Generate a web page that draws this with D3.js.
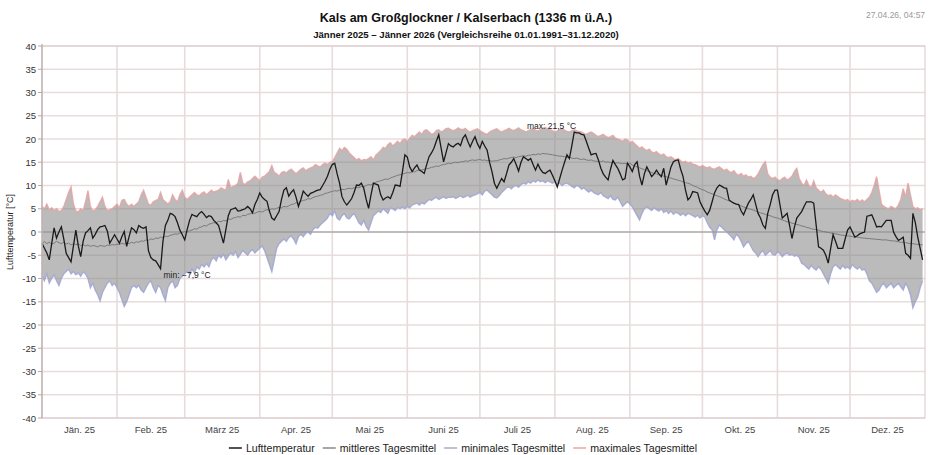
<!DOCTYPE html>
<html>
<head>
<meta charset="utf-8">
<script src="https://cdn.jsdelivr.net/npm/d3@7"></script>
<style>
  body { margin: 0; background: #fff; }
  text { font-family: "Liberation Sans", Arial, sans-serif; }
</style>
</head>
<body>
<script>
var width = 928
var height = 455
var plotLeft = 42, plotRight = 925, plotTop = 46, plotBottom = 418

var monthLabels = ["Jän. 25", "Feb. 25", "März 25", "Apr. 25", "Mai 25", "Juni 25",
  "Juli 25", "Aug. 25", "Sep. 25", "Okt. 25", "Nov. 25", "Dez. 25"]

// Lufttemperatur, Tagesmittel 2025 (1. Jänner .. 31. Dezember)
var lufttemperatur = [
  -2.4, -3.5, -4.5, -6.0, -2.5, 0.9, -1.3, 0.0, 1.1, -1.5,
  -4.6, -5.5, -6.4, -3.0, 0.4, -3.0, -5.3, -2.0, -0.2, 0.3,
  0.9, -1.3, -0.5, 0.5, 1.1, 1.2, 1.4, 0.2, -2.4, -1.5,
  -0.6, -1.5, -2.4, -1.0, 0.1, -3.1, -1.0, 0.9, 0.5, -0.2,
  1.4, 1.0, 0.8, 1.1, -4.0, -5.5, -6.0, -6.2, -7.0, -7.9,
  -2.0, 1.4, 2.5, 4.0, 3.8, 3.3, 2.0, 0.4, -0.6, -1.7,
  0.5, 2.5, 3.8, 3.5, 3.3, 4.0, 4.4, 3.8, 3.1, 3.5,
  3.3, 2.5, 2.0, 1.4, -0.5, -2.4, 0.5, 3.5, 4.8, 5.0,
  5.2, 4.5, 4.6, 4.8, 5.0, 5.5, 5.0, 4.1, 5.9, 7.0,
  8.4, 7.5, 7.0, 6.6, 4.5, 3.0, 2.6, 3.5, 4.4, 7.0,
  9.0, 9.5, 7.7, 8.5, 9.1, 7.5, 5.5, 7.0, 8.8, 8.2,
  7.7, 8.3, 8.5, 8.8, 9.0, 9.1, 10.0, 10.9, 12.0, 13.5,
  14.5, 14.8, 12.5, 10.5, 7.6, 6.5, 5.8, 6.5, 7.2, 8.5,
  10.1, 10.0, 10.5, 9.4, 7.0, 5.1, 8.0, 10.5, 10.3, 10.1,
  8.0, 6.9, 7.3, 7.6, 7.2, 8.5, 10.1, 10.0, 9.8, 13.0,
  16.6, 16.1, 14.0, 13.0, 13.8, 14.4, 13.3, 13.0, 12.6, 14.5,
  16.2, 17.0, 18.0, 19.5, 20.9, 18.0, 15.1, 17.0, 19.0, 18.5,
  18.3, 18.8, 19.1, 18.6, 20.2, 20.9, 19.5, 18.3, 19.5, 20.5,
  19.0, 18.0, 19.5, 18.5, 17.6, 15.0, 13.0, 10.5, 9.4, 10.5,
  11.5, 10.8, 12.5, 14.4, 15.0, 15.8, 14.5, 13.1, 15.0, 16.2,
  15.8, 15.4, 15.8, 14.5, 13.3, 14.6, 13.5, 12.8, 12.6, 13.0,
  13.3, 12.2, 11.0, 9.7, 11.5, 13.3, 15.0, 16.6, 15.8, 18.5,
  21.5, 21.3, 21.3, 21.0, 20.9, 19.5, 18.0, 16.6, 16.8, 16.9,
  15.5, 13.7, 12.5, 11.8, 11.2, 13.5, 15.4, 14.5, 13.7, 12.5,
  11.2, 11.5, 14.8, 14.0, 13.0, 14.5, 15.1, 12.0, 10.1, 12.5,
  14.0, 13.0, 11.9, 12.5, 13.3, 12.5, 11.9, 13.7, 10.1, 12.0,
  14.0, 15.1, 15.4, 15.5, 13.5, 11.9, 9.0, 6.9, 7.5, 8.7,
  8.6, 8.4, 6.5, 5.4, 4.5, 3.7, 4.7, 6.5, 8.4, 9.5,
  10.1, 9.8, 9.5, 9.4, 6.9, 6.5, 6.2, 6.0, 5.9, 4.5,
  3.7, 5.0, 6.2, 7.0, 8.0, 6.0, 4.0, 3.0, 1.5, 0.8,
  4.0, 5.9, 8.0, 9.0, 9.0, 6.0, 3.0, 3.5, 4.0, 1.5,
  -1.4, 1.0, 3.0, 3.7, 4.4, 5.5, 6.5, 6.5, 6.5, 6.2,
  1.5, -3.2, -3.5, -3.9, -5.0, -6.7, -3.5, -0.6, -2.0, -3.5,
  -3.5, -3.5, -1.5, 0.4, 1.1, 0.0, -1.1, -0.8, -0.4, -0.2,
  0.0, 3.4, 3.5, 3.7, 2.5, 1.1, 1.2, 1.1, 1.8, 2.5,
  2.5, 2.5, 0.0, -1.0, -1.8, -1.5, -1.1, -4.6, -5.0, -5.7,
  4.0, 2.0, -1.1, -3.5, -6.0
]

// mittleres Tagesmittel 1991-2020
var mittleresTagesmittel = [
  -2.3, -2.1, -2.5, -2.2, -2.6, -2.4, -2.0, -2.3, -2.5, -2.2,
  -2.6, -2.4, -2.8, -2.5, -2.7, -2.6, -2.9, -2.7, -3.0, -2.8,
  -3.1, -2.9, -3.0, -3.2, -2.9, -3.0, -3.1, -2.8, -2.9, -2.7,
  -2.8, -2.6, -2.7, -2.4, -2.6, -2.3, -2.5, -2.2, -2.4, -2.1,
  -2.2, -1.9, -2.0, -1.7, -1.8, -1.5, -1.6, -1.3, -1.4, -1.1,
  -1.2, -0.9, -1.0, -0.7, -0.6, -0.4, -0.5, -0.2, -0.1, 0.1,
  0.0, 0.3, 0.4, 0.7, 0.6, 1.0, 1.1, 1.4, 1.3, 1.7,
  1.8, 2.0, 1.9, 2.3, 2.2, 2.5, 2.4, 2.8, 2.7, 3.0,
  3.1, 3.3, 3.2, 3.6, 3.5, 3.8, 3.9, 4.1, 4.0, 4.3,
  4.4, 4.3, 4.6, 4.8, 4.7, 5.0, 4.9, 5.1, 5.3, 5.2,
  5.5, 5.4, 5.6, 5.9, 6.0, 6.3, 6.2, 6.6, 6.8, 6.9,
  7.2, 7.1, 7.4, 7.6, 7.7, 7.9, 8.0, 8.3, 8.4, 8.6,
  8.7, 8.9, 8.8, 9.0, 9.2, 9.1, 9.3, 9.4, 9.3, 9.5,
  9.6, 9.5, 9.8, 9.7, 10.0, 10.2, 10.1, 10.5, 10.7, 10.9,
  11.0, 11.2, 11.4, 11.3, 11.6, 11.8, 12.0, 12.2, 12.3, 12.5,
  12.6, 12.8, 12.7, 13.0, 12.9, 13.2, 13.4, 13.3, 13.5, 13.6,
  13.7, 13.9, 14.0, 14.2, 14.1, 14.4, 14.5, 14.6, 14.8, 14.7,
  14.9, 15.0, 14.9, 15.1, 15.1, 15.3, 15.2, 15.4, 15.5, 15.4,
  15.5, 15.6, 15.4, 15.5, 15.3, 15.4, 15.2, 15.3, 15.3, 15.5,
  15.6, 15.8, 15.7, 15.9, 16.0, 16.1, 16.0, 16.2, 16.3, 16.4,
  16.3, 16.5, 16.5, 16.7, 16.6, 16.8, 16.7, 16.9, 16.8, 16.8,
  16.7, 16.6, 16.5, 16.4, 16.3, 16.3, 16.2, 16.0, 16.1, 15.9,
  15.8, 15.9, 15.7, 15.6, 15.7, 15.5, 15.4, 15.5, 15.3, 15.2,
  15.2, 15.1, 15.3, 15.0, 15.1, 14.9, 15.0, 14.8, 14.9, 14.8,
  14.7, 14.8, 14.6, 14.8, 14.4, 14.2, 14.0, 13.8, 13.6, 13.4,
  13.2, 13.0, 12.8, 12.6, 12.5, 12.3, 12.2, 12.0, 11.9, 11.7,
  11.6, 11.4, 11.3, 11.1, 11.0, 10.8, 10.6, 10.5, 10.3, 10.0,
  9.8, 9.6, 9.3, 9.1, 8.9, 8.6, 8.4, 8.2, 8.0, 7.8,
  7.6, 7.4, 7.1, 6.9, 6.7, 6.5, 6.2, 6.0, 5.8, 5.6,
  5.4, 5.2, 5.0, 4.9, 4.7, 4.5, 4.3, 4.1, 4.0, 3.8,
  3.6, 3.5, 3.3, 3.1, 3.0, 2.8, 2.6, 2.4, 2.2, 2.1,
  1.9, 1.8, 1.6, 1.5, 1.3, 1.2, 1.0, 0.9, 0.7, 0.6,
  0.5, 0.4, 0.2, 0.1, 0.0, -0.1, -0.2, -0.3, -0.4, -0.5,
  -0.6, -0.7, -0.8, -0.8, -0.9, -1.0, -1.1, -1.1, -1.2, -1.3,
  -1.3, -1.4, -1.4, -1.5, -1.5, -1.6, -1.6, -1.7, -1.7, -1.7,
  -1.8, -1.9, -1.9, -2.0, -2.1, -2.2, -2.2, -2.3, -2.4, -2.5,
  -2.5, -2.6, -2.7, -2.7, -2.8
]

// minimales Tagesmittel 1991-2020
var minimalesTagesmittel = [
  -9.5, -10.5, -9.0, -11.0, -10.0, -9.2, -10.5, -11.5, -10.0, -9.0,
  -8.5, -8.0, -9.0, -8.5, -9.2, -8.8, -9.5, -8.6, -9.0, -10.0,
  -12.0, -11.0, -12.5, -13.5, -14.8, -13.0, -12.0, -11.0, -10.5, -11.5,
  -11.0, -12.0, -13.0, -14.5, -16.0, -15.0, -13.5, -12.0, -11.5, -12.0,
  -11.5, -12.5, -13.0, -12.0, -11.0, -10.5, -12.0, -13.0, -11.5, -12.0,
  -13.5, -14.8, -12.0, -11.0, -10.5, -12.0, -11.5, -10.0, -9.5, -9.0,
  -8.5, -9.0, -8.0, -8.8, -7.5, -8.0, -7.0, -7.5, -6.8, -7.5,
  -6.0, -5.5, -6.2, -5.0, -5.5, -4.8, -6.0, -5.2, -4.5, -5.0,
  -4.2, -5.5, -4.8, -4.0, -4.5, -5.0, -4.2, -3.8, -4.5, -4.0,
  -3.5, -3.0, -4.0, -5.5, -7.0, -8.5, -6.0, -3.5, -2.5, -2.0,
  -1.5, -2.0, -1.2, -0.8, -1.5, -2.5, -1.0, -0.5, -1.0, -0.3,
  0.0, -0.5, 0.5, 1.0, 0.8, 1.5, 2.0, 2.5, 3.0, 4.0,
  3.5, 4.5, 3.0, 2.6, 3.5, 4.0, 3.0, 2.8, 3.5, 4.0,
  3.0, 2.0, 1.5, 2.5, 1.2, 0.4, 2.0, 3.5, 4.0, 4.5,
  4.2, 5.0, 4.5, 4.0, 5.2, 5.0, 4.6, 5.3, 5.0, 5.4,
  5.0, 5.5, 5.2, 5.8, 6.0, 6.2, 5.8, 6.3, 6.0, 6.5,
  7.0, 6.8, 7.2, 7.5, 7.0, 7.3, 7.6, 7.2, 7.5, 7.4,
  7.6, 7.2, 7.5, 7.8, 7.4, 7.6, 7.9, 7.5, 7.8, 8.0,
  8.2, 8.5, 8.0, 8.8, 9.0, 8.5, 8.0, 7.5, 7.3, 7.8,
  8.5, 9.0, 9.5, 9.7, 9.3, 9.8, 10.0, 9.6, 10.2, 10.5,
  10.3, 10.8, 10.5, 11.0, 10.7, 11.2, 10.8, 11.0, 10.6, 11.0,
  10.8, 10.5, 10.8, 10.3, 10.5, 10.0, 10.4, 10.5, 10.2, 9.8,
  9.5, 10.0, 9.8, 9.2, 9.5, 9.0, 8.6, 9.0, 8.5, 8.2,
  8.0, 8.5, 7.8, 7.5, 7.2, 7.8, 7.0, 6.9, 7.5, 6.5,
  5.5, 6.0, 6.5, 6.0, 5.4, 4.5, 3.5, 2.6, 4.0, 5.0,
  5.4, 5.0, 4.6, 5.2, 4.8, 4.5, 5.0, 4.2, 4.6, 4.0,
  4.5, 3.8, 4.2, 4.0, 3.6, 4.0, 3.5, 4.0, 3.8, 3.5,
  3.2, 3.6, 3.0, 3.5, 3.2, 2.0, 1.0, 0.5, -1.7, 0.5,
  1.5, 1.0, 0.5, 0.0, -0.5, -1.0, -1.7, -0.5, -1.0, -2.0,
  -3.2, -2.5, -2.0, -3.0, -4.0, -4.5, -5.3, -4.5, -4.0, -5.0,
  -4.5, -4.0, -4.8, -5.0, -4.2, -4.6, -5.3, -4.8, -4.5, -5.0,
  -4.8, -5.2, -5.0, -5.5, -6.7, -7.0, -7.5, -8.0, -7.2, -7.8,
  -8.2, -7.5, -8.0, -9.0, -10.0, -11.0, -9.0, -7.5, -7.0, -7.5,
  -8.0, -7.2, -7.8, -7.5, -8.0, -7.0, -7.6, -8.0, -7.5, -8.2,
  -8.0, -9.0, -10.5, -11.0, -12.0, -13.0, -12.5, -11.5, -11.0, -12.0,
  -11.5, -11.0, -12.0, -11.5, -11.0, -11.8, -12.5, -11.0, -12.0, -13.5,
  -16.3, -15.0, -14.0, -12.0, -10.5
]

// maximales Tagesmittel 1991-2020
var maximalesTagesmittel = [
  5.5, 5.0, 6.0, 4.8, 5.2, 4.6, 5.0, 4.4, 4.6, 5.5,
  7.0, 8.5, 9.7, 6.0, 4.5, 4.3, 5.0, 4.6, 6.5, 8.9,
  5.5, 4.5, 4.8, 5.5, 6.5, 7.5, 5.5, 4.6, 4.8, 5.0,
  5.5, 6.0, 5.2, 6.8, 7.0, 6.0, 5.5, 6.0, 5.5, 6.0,
  6.5, 8.0, 9.0, 7.5, 6.0, 5.8, 6.5, 6.8, 7.0, 8.5,
  7.0, 6.5, 6.0, 6.5, 8.0, 7.0, 6.5, 8.0, 9.0, 7.5,
  7.0, 7.5, 8.0, 8.5, 8.0, 7.8, 8.3, 8.6, 8.0, 8.5,
  9.0, 8.6, 8.8, 9.0, 9.5, 9.2, 9.0, 11.3, 9.5, 9.8,
  10.0, 10.5, 12.8, 10.5, 10.2, 10.8, 11.0, 11.5, 12.0, 11.5,
  11.0, 11.8, 12.0, 12.5, 13.0, 14.3, 12.8, 12.5, 12.0, 12.8,
  13.0, 12.7, 13.2, 13.5, 13.0, 12.5, 13.0, 13.5, 13.8, 13.2,
  13.5, 13.8, 14.0, 14.5, 14.2, 14.0, 14.5, 14.8, 14.5, 15.0,
  15.2, 16.0, 17.0, 18.0, 17.5, 18.2, 17.8, 17.0, 16.5, 16.0,
  15.5, 15.8, 15.3, 15.6, 15.5, 15.8, 16.2, 15.5, 16.5, 17.0,
  17.5, 18.2, 18.0, 18.8, 19.2, 18.5, 19.0, 19.5, 19.0, 19.8,
  20.0, 19.5, 20.2, 20.8, 20.5, 21.0, 21.5, 21.0, 21.8, 22.0,
  21.5, 21.0, 21.2, 21.8, 22.0, 21.5, 21.8, 22.2, 22.3, 22.0,
  21.8, 22.0, 22.4, 22.1, 22.0, 22.3, 21.8, 21.5, 21.8, 22.0,
  22.2, 21.8, 21.5, 21.2, 21.0, 21.5, 21.8, 22.0, 22.2, 21.8,
  21.5, 21.8, 22.0, 22.3, 22.0, 21.8, 22.1, 22.4, 22.0, 21.8,
  21.5, 21.8, 22.0, 22.2, 21.9, 21.7, 22.0, 22.3, 22.5, 22.2,
  22.0, 21.8, 21.5, 21.7, 22.0, 22.2, 21.9, 21.6, 21.5, 21.8,
  22.0, 21.8, 21.6, 21.5, 21.2, 21.0, 21.3, 21.5, 21.2, 20.8,
  20.5, 20.8, 21.0, 20.6, 20.3, 20.5, 20.8, 20.2, 20.0, 19.8,
  19.5, 20.0, 19.8, 19.2, 19.5, 19.0, 18.5, 18.0, 18.3, 17.8,
  17.5, 17.8, 17.2, 17.0, 17.3, 16.8, 16.5, 16.8, 16.2, 16.0,
  16.2, 15.8, 15.5, 15.8, 15.3, 15.0, 15.2, 14.8, 15.0, 14.6,
  14.5, 14.2, 14.0, 14.3, 14.0, 13.8, 14.0, 13.6, 13.5, 13.8,
  14.0, 13.6, 13.2, 13.5, 13.0, 12.8, 13.2, 12.5, 12.2, 12.6,
  12.0, 12.3, 11.8, 12.0, 11.5, 11.8, 12.5, 13.5, 14.5, 15.1,
  12.5, 11.8, 11.5, 11.8, 11.3, 11.0, 11.5, 11.8, 11.2, 11.5,
  12.0, 13.0, 13.7, 11.5, 10.5, 10.0, 11.2, 10.0, 9.5, 11.0,
  9.5, 9.0, 8.5, 9.0, 8.2, 7.8, 8.0, 7.5, 8.0, 7.6,
  7.2, 7.0, 6.8, 7.0, 6.5, 6.8, 6.6, 7.0, 6.5, 6.9,
  6.5, 7.0, 7.5, 8.5, 10.0, 11.9, 9.0, 6.0, 5.5, 5.2,
  5.0, 5.5, 5.2, 5.0, 5.8, 7.0, 9.3, 7.5, 10.5, 8.0,
  5.5, 5.0, 5.2, 4.8, 5.0
]

var start = new Date(2025, 0, 1)
var end = new Date(2026, 0, 1)
var day = function (i) { return d3.timeDay.offset(start, i) }

var x = d3.scaleTime().domain([start, end]).range([plotLeft, plotRight])
var y = d3.scaleLinear().domain([-40, 40]).range([plotBottom, plotTop])
var yTicks = y.ticks(16)

var svg = d3.select("body").append("svg")
  .attr("width", width)
  .attr("height", height)

// Gitter
var months = d3.timeMonth.range(start, end)
svg.append("g").selectAll("line")
  .data(yTicks)
  .enter().append("line")
  .attr("x1", plotLeft).attr("x2", plotRight)
  .attr("y1", function (d) { return y(d) }).attr("y2", function (d) { return y(d) })
  .attr("stroke", "#e8dcdc").attr("stroke-width", 1.6)
svg.append("g").selectAll("line")
  .data(months.slice(1))
  .enter().append("line")
  .attr("x1", function (d) { return x(d) }).attr("x2", function (d) { return x(d) })
  .attr("y1", plotTop).attr("y2", plotBottom)
  .attr("stroke", "#e6dcdc").attr("stroke-width", 1.6)

// Band min..max
var idx = d3.range(lufttemperatur.length)
svg.append("path")
  .datum(idx)
  .attr("d", d3.area()
    .x(function (i) { return x(day(i)) })
    .y0(function (i) { return y(minimalesTagesmittel[i]) })
    .y1(function (i) { return y(maximalesTagesmittel[i]) }))
  .attr("fill", "#8a8a8a").attr("fill-opacity", 0.58)

var line = function (arr) {
  return d3.line()
    .x(function (i) { return x(day(i)) })
    .y(function (i) { return y(arr[i]) })
}

svg.append("line")
  .attr("x1", plotLeft).attr("x2", plotRight)
  .attr("y1", y(0)).attr("y2", y(0))
  .attr("stroke", "#939393").attr("stroke-width", 1.2)

svg.append("path").datum(idx).attr("d", line(maximalesTagesmittel))
  .attr("fill", "none").attr("stroke", "#e6a2a2").attr("stroke-width", 1.4).attr("stroke-opacity", 0.85)
svg.append("path").datum(idx).attr("d", line(minimalesTagesmittel))
  .attr("fill", "none").attr("stroke", "#9ea5d4").attr("stroke-width", 1.4).attr("stroke-opacity", 0.85)
svg.append("path").datum(idx).attr("d", line(mittleresTagesmittel))
  .attr("fill", "none").attr("stroke", "#7a7a7a").attr("stroke-width", 1)
svg.append("path").datum(idx).attr("d", line(lufttemperatur))
  .attr("fill", "none").attr("stroke", "#1a1a1a").attr("stroke-width", 1.3)

// Rahmen
svg.append("rect")
  .attr("x", plotLeft).attr("y", plotTop)
  .attr("width", plotRight - plotLeft).attr("height", plotBottom - plotTop)
  .attr("fill", "none").attr("stroke", "#d9c9c9").attr("stroke-width", 1)
svg.append("line")
  .attr("x1", plotLeft).attr("x2", plotLeft).attr("y1", plotTop - 2).attr("y2", plotBottom)
  .attr("stroke", "#b9a9a9").attr("stroke-width", 1.2)

// Achsen
svg.append("g").selectAll("text")
  .data(yTicks)
  .enter().append("text")
  .attr("x", plotLeft - 6).attr("y", function (d) { return y(d) + 3.5 })
  .attr("text-anchor", "end")
  .attr("font-size", 9.5).attr("fill", "#333")
  .text(function (d) { return d })
svg.append("g").selectAll("line")
  .data(yTicks)
  .enter().append("line")
  .attr("x1", plotLeft - 4).attr("x2", plotLeft)
  .attr("y1", function (d) { return y(d) }).attr("y2", function (d) { return y(d) })
  .attr("stroke", "#b9a9a9")

svg.append("g").selectAll("text")
  .data(months)
  .enter().append("text")
  .attr("x", function (d) { return (x(d) + x(d3.timeMonth.offset(d, 1))) / 2 })
  .attr("y", 433)
  .attr("text-anchor", "middle")
  .attr("font-size", 9.5).attr("fill", "#444")
  .text(function (d, i) { return monthLabels[i] })

svg.append("text")
  .attr("transform", "translate(13," + y(0) + ") rotate(-90)")
  .attr("text-anchor", "middle")
  .attr("font-size", 9).attr("fill", "#222")
  .text("Lufttemperatur [°C]")

// Titel
svg.append("text")
  .attr("x", 466).attr("y", 22)
  .attr("text-anchor", "middle")
  .attr("font-size", 12.5).attr("font-weight", "bold").attr("fill", "#111")
  .text("Kals am Großglockner / Kalserbach (1336 m ü.A.)")
svg.append("text")
  .attr("x", 466).attr("y", 38)
  .attr("text-anchor", "middle")
  .attr("font-size", 9.6).attr("font-weight", "bold").attr("fill", "#111")
  .text("Jänner 2025 – Jänner 2026 (Vergleichsreihe 01.01.1991–31.12.2020)")
svg.append("text")
  .attr("x", 866).attr("y", 18)
  .attr("font-size", 8.5).attr("fill", "#9a9a9a")
  .text("27.04.26, 04:57")

// Extremwerte
var fmt = function (v) { return d3.format(".1f")(v).replace(".", ",") + " °C" }
var iMax = d3.maxIndex(lufttemperatur)
var iMin = d3.minIndex(lufttemperatur)
svg.append("text")
  .attr("x", x(day(iMax)) + 2).attr("y", y(lufttemperatur[iMax]) - 3)
  .attr("text-anchor", "end")
  .attr("font-size", 8.5).attr("fill", "#222")
  .text("max: " + fmt(lufttemperatur[iMax]))
svg.append("text")
  .attr("x", x(day(iMin)) + 3).attr("y", y(lufttemperatur[iMin]) + 9)
  .attr("font-size", 8.5).attr("fill", "#222")
  .text("min: " + fmt(lufttemperatur[iMin]))

// Legende
var legend = [
  { name: "Lufttemperatur", color: "#1a1a1a" },
  { name: "mittleres Tagesmittel", color: "#8a8a8a" },
  { name: "minimales Tagesmittel", color: "#a9acc4" },
  { name: "maximales Tagesmittel", color: "#e8a6a6" }
]
var lg = svg.append("g")
var lx = 0
legend.forEach(function (d) {
  lg.append("line")
    .attr("x1", lx).attr("x2", lx + 13).attr("y1", 0).attr("y2", 0)
    .attr("stroke", d.color).attr("stroke-width", 1.5)
  var t = lg.append("text")
    .attr("x", lx + 17).attr("y", 4)
    .attr("font-size", 10.6).attr("fill", "#222")
    .text(d.name)
  lx += 17 + t.node().getComputedTextLength() + 8
})
lg.attr("transform", "translate(" + (467 - lx / 2) + ",448)")
</script>
</body>
</html>
